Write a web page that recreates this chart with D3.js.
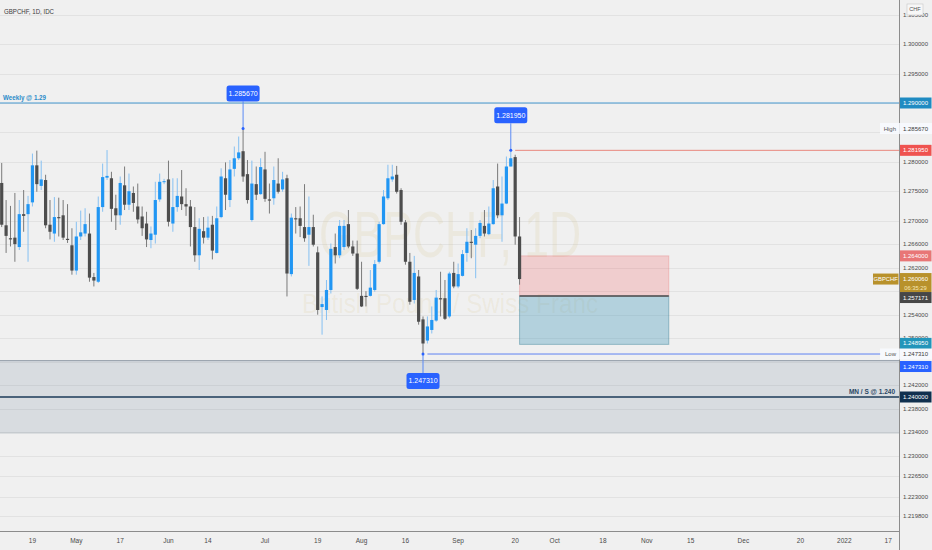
<!DOCTYPE html>
<html><head><meta charset="utf-8">
<script src="https://cdn.jsdelivr.net/npm/d3@7"></script>
<style>html,body{margin:0;padding:0;background:#f0f0f0;overflow:hidden}</style>
</head><body><svg id="c" width="932" height="550"></svg>
<script>
// ---------- DATA ----------
const symbol = "GBPCHF, 1D, IDC";
const wmTitle = "GBPCHF, 1D";
const wmSub = "British Pound / Swiss Franc";
const startDate = "2021-04-08"; // first visible daily bar (weekdays only)
const opens = [
1.2764,1.2692,1.2670,1.2671,1.2655,1.2711,1.2711,1.2731,1.2794,1.2759,
1.2769,1.2693,1.2678,1.2706,1.2709,1.2669,1.2658,1.2615,1.2673,1.2678,
1.2678,1.2604,1.2596,1.2723,1.2773,1.2772,1.2721,1.2709,1.2760,1.2727,
1.2747,1.2724,1.2707,1.2695,1.2667,1.2676,1.2736,1.2766,1.2770,1.2695,
1.2723,1.2741,1.2728,1.2724,1.2689,1.2641,1.2682,1.2671,1.2693,1.2645,
1.2706,1.2772,1.2735,1.2788,1.2806,1.2818,1.2779,1.2701,1.2762,1.2745,
1.2787,1.2736,1.2738,1.2763,1.2753,1.2772,1.2609,1.2704,1.2704,1.2689,
1.2676,1.2689,1.2646,1.2553,1.2548,1.2582,1.2655,1.2641,1.2655,1.2694,
1.2656,1.2644,1.2572,1.2572,1.2572,1.2582,1.2630,1.2694,1.2738,1.2770,
1.2778,1.2752,1.2697,1.2630,1.2565,1.2605,1.2532,1.2496,1.2514,1.2530,
1.2568,1.2568,1.2537,1.2611,1.2588,1.2606,1.2645,1.2664,1.2659,1.2674,
1.2691,1.2677,1.2694,1.2758,1.2709,1.2729,1.2792,1.2808,1.2673];
const highs = [
1.2798,1.2735,1.2725,1.2747,1.2735,1.2752,1.2742,1.2814,1.2819,1.2802,
1.2778,1.2735,1.2740,1.2739,1.2735,1.2728,1.2687,1.2698,1.2717,1.2721,
1.2712,1.2611,1.2741,1.2797,1.2820,1.2783,1.2744,1.2775,1.2792,1.2780,
1.2758,1.2763,1.2724,1.2715,1.2690,1.2766,1.2780,1.2771,1.2802,1.2772,
1.2772,1.2786,1.2755,1.2735,1.2723,1.2704,1.2706,1.2707,1.2708,1.2724,
1.2789,1.2799,1.2803,1.2826,1.2843,1.28567,1.2803,1.2802,1.2792,1.2806,
1.2817,1.2763,1.2792,1.2806,1.2783,1.2778,1.2712,1.2723,1.2724,1.2762,
1.2741,1.2710,1.2656,1.2571,1.2599,1.2661,1.2678,1.2701,1.2701,1.2718,
1.2666,1.2666,1.2630,1.2580,1.2616,1.2633,1.2698,1.2752,1.2795,1.2795,
1.2793,1.2755,1.2701,1.2645,1.2640,1.2616,1.2537,1.2537,1.2554,1.2582,
1.2613,1.2599,1.2613,1.2630,1.2627,1.2650,1.2687,1.2684,1.2687,1.2701,
1.2718,1.2724,1.2769,1.2797,1.2775,1.2809,1.28195,1.2812,1.2706];
const lows = [
1.2689,1.2645,1.2656,1.2630,1.2650,1.2681,1.2630,1.2724,1.2749,1.2752,
1.2687,1.2668,1.2664,1.2673,1.2667,1.2662,1.2608,1.2608,1.2667,1.2673,
1.2596,1.2588,1.2594,1.2715,1.2769,1.2698,1.2684,1.2693,1.2718,1.2718,
1.2715,1.2695,1.2674,1.2655,1.2653,1.2661,1.2732,1.2762,1.2690,1.2681,
1.2715,1.2718,1.2708,1.2656,1.2630,1.2616,1.2661,1.2667,1.2634,1.2644,
1.2704,1.2718,1.2723,1.2775,1.2803,1.2766,1.2729,1.2698,1.2735,1.2744,
1.2732,1.2712,1.2727,1.2746,1.2749,1.2571,1.2605,1.2678,1.2672,1.2664,
1.2623,1.2656,1.2540,1.2506,1.2531,1.2576,1.2627,1.2636,1.2650,1.2653,
1.2640,1.2582,1.2553,1.2554,1.2571,1.2579,1.2627,1.2693,1.2735,1.2766,
1.2746,1.2693,1.2625,1.2557,1.2559,1.2523,1.24731,1.2491,1.2508,1.2528,
1.2537,1.2531,1.2534,1.2585,1.2585,1.2605,1.2630,1.2636,1.2602,1.2670,
1.2673,1.2675,1.2693,1.2704,1.2664,1.2728,1.2792,1.2659,1.2591];
const closes = [
1.2693,1.2674,1.2668,1.2660,1.2711,1.2708,1.2728,1.2794,1.2762,1.2770,
1.2692,1.2681,1.2706,1.2704,1.2671,1.2667,1.2615,1.2673,1.2680,1.2694,
1.2603,1.2598,1.2723,1.2774,1.2776,1.2720,1.2709,1.2764,1.2727,1.2750,
1.2730,1.2702,1.2687,1.2668,1.2678,1.2735,1.2766,1.2767,1.2698,1.2723,
1.2742,1.2728,1.2724,1.2689,1.2641,1.2686,1.2671,1.2688,1.2649,1.2704,
1.2775,1.2744,1.2787,1.2806,1.2816,1.2775,1.2735,1.2763,1.2744,1.2791,
1.2737,1.2734,1.2769,1.2749,1.2770,1.2610,1.2705,1.2702,1.2691,1.2670,
1.2689,1.2659,1.2548,1.2558,1.2582,1.2652,1.2641,1.2691,1.2691,1.2656,
1.2644,1.2584,1.2554,1.2570,1.2586,1.2626,1.2694,1.2741,1.2772,1.2775,
1.2749,1.2698,1.2630,1.2562,1.2611,1.2528,1.2491,1.2520,1.2531,1.2569,
1.2566,1.2533,1.2610,1.2588,1.2609,1.2643,1.2664,1.2662,1.2674,1.2696,
1.2678,1.2695,1.2755,1.2709,1.2729,1.2792,1.2806,1.2673,1.26006];

const tickDates  = ["2021-04-19","2021-05-03","2021-05-17","2021-06-01","2021-06-14","2021-07-01","2021-07-19","2021-08-02","2021-08-16","2021-09-01","2021-09-20","2021-10-01","2021-10-18","2021-11-01","2021-11-15","2021-12-01","2021-12-20","2022-01-03","2022-01-17"];
const tickLabels = ["19","May","17","Jun","14","Jul","19","Aug","16","Sep","20","Oct","18","Nov","15","Dec","20","2022","17"];

const gridPrices = [1.305,1.300,1.295,1.290,1.285,1.280,1.275,1.270,1.266,1.262,1.258,1.254,1.250,1.246,1.242,1.238,1.234,1.230,1.2265,1.223,1.2198];
const axisPrices = [1.305,1.300,1.295,1.280,1.275,1.270,1.266,1.262,1.254,1.250,1.242,1.238,1.234,1.230,1.2265,1.223,1.2198];

const weeklyLevel = 1.29, weeklyText = "Weekly @ 1.29";
const monthlyLevel = 1.24, monthlyText = "MN / S @ 1.240";
const zoneTop = 1.24618, zoneBottom = 1.23389;
const highPrice = 1.28567, highIdx = 55;
const swingHigh = 1.28195, swingHighIdx = 116;
const lowPrice = 1.24731, lowIdx = 96;
const posEntry = 1.257171, posStop = 1.264, posTarget = 1.24895, posStartIdx = 118, posEndIdx = 152;
const lastPrice = 1.26006, countdown = "06:35:29";

// ---------- SETUP ----------
const W = 932, H = 550, plotR = 899, plotB = 531;
const FONT = "'Liberation Sans', Arial, sans-serif";
const svg = d3.select("#c").style("font-family", FONT);
svg.append("rect").attr("width", W).attr("height", H).attr("fill", "#f0f0f0");

const x = d3.scaleLinear().domain([-0.39, 204.46]).range([0, plotR]);
const y = d3.scaleLinear().domain([1.24, 1.29]).range([397, 103]);
const fmt = d3.format(".6f");

function idxOf(ds) {
  const s = new Date(startDate + "T00:00:00Z"), e = new Date(ds + "T00:00:00Z");
  let n = 0;
  for (let d = new Date(s); d < e; d.setUTCDate(d.getUTCDate() + 1)) {
    const wd = d.getUTCDay();
    if (wd !== 0 && wd !== 6) n++;
  }
  return n;
}
const candles = opens.map((o, i) => ({i, o, h: highs[i], l: lows[i], c: closes[i]}));

svg.append("defs").append("clipPath").attr("id", "plot")
  .append("rect").attr("x", 0).attr("y", 0).attr("width", plotR).attr("height", plotB);
const plot = svg.append("g").attr("clip-path", "url(#plot)");

// grid
plot.append("g").selectAll("line").data(gridPrices).join("line")
  .attr("x1", 0).attr("x2", plotR)
  .attr("y1", d => Math.round(y(d)) + 0.5).attr("y2", d => Math.round(y(d)) + 0.5)
  .attr("stroke", "#e2e2e2").attr("stroke-width", 1);

// watermark
plot.append("text").attr("x", 319).attr("y", 257).attr("font-size", 64)
  .attr("textLength", 262).attr("lengthAdjust", "spacingAndGlyphs")
  .attr("fill", "rgba(200,170,70,0.10)").text(wmTitle);
plot.append("text").attr("x", 302).attr("y", 313).attr("font-size", 27)
  .attr("textLength", 296).attr("lengthAdjust", "spacingAndGlyphs")
  .attr("fill", "rgba(200,170,70,0.10)").text(wmSub);

// gray zone
plot.append("rect").attr("x", 0).attr("width", plotR)
  .attr("y", y(zoneTop)).attr("height", y(zoneBottom) - y(zoneTop))
  .attr("fill", "rgba(120,140,160,0.2)");
plot.append("line").attr("x1", 0).attr("x2", plotR).attr("y1", y(zoneTop)).attr("y2", y(zoneTop))
  .attr("stroke", "#8f9aa5").attr("stroke-width", 1);
plot.append("line").attr("x1", 0).attr("x2", plotR).attr("y1", y(zoneBottom)).attr("y2", y(zoneBottom))
  .attr("stroke", "#c0c6cc").attr("stroke-width", 1);

// weekly line
plot.append("line").attr("x1", 0).attr("x2", plotR).attr("y1", y(weeklyLevel)).attr("y2", y(weeklyLevel))
  .attr("stroke", "#4498d0").attr("stroke-width", 1);
plot.append("text").attr("x", 3).attr("y", y(weeklyLevel) - 3.5).attr("font-size", 6.5)
  .attr("font-weight", "bold").attr("textLength", 43).attr("lengthAdjust", "spacingAndGlyphs")
  .attr("fill", "#2a8bc9").text(weeklyText);

// monthly line
plot.append("line").attr("x1", 0).attr("x2", plotR).attr("y1", y(monthlyLevel)).attr("y2", y(monthlyLevel))
  .attr("stroke", "#1d3b58").attr("stroke-width", 1.6);
plot.append("text").attr("x", 895).attr("y", y(monthlyLevel) - 3.5).attr("font-size", 6.5)
  .attr("text-anchor", "end").attr("font-weight", "bold")
  .attr("fill", "#2b4865").text(monthlyText);

// position tool
const px0 = x(posStartIdx), px1 = x(posEndIdx);
plot.append("rect").attr("x", px0).attr("width", px1 - px0)
  .attr("y", y(posStop)).attr("height", y(posEntry) - y(posStop))
  .attr("fill", "rgba(242,80,85,0.22)").attr("stroke", "rgba(230,120,120,0.35)");
plot.append("rect").attr("x", px0).attr("width", px1 - px0)
  .attr("y", y(posEntry)).attr("height", y(posTarget) - y(posEntry))
  .attr("fill", "rgba(40,140,180,0.30)").attr("stroke", "rgba(60,130,150,0.45)");
plot.append("line").attr("x1", px0).attr("x2", px1).attr("y1", y(posEntry)).attr("y2", y(posEntry))
  .attr("stroke", "#505050").attr("stroke-width", 1.4);

// swing high red line
plot.append("line").attr("x1", x(swingHighIdx + 1)).attr("x2", plotR)
  .attr("y1", y(swingHigh)).attr("y2", y(swingHigh))
  .attr("stroke", "#e8877d").attr("stroke-width", 1);

// low line
plot.append("line").attr("x1", x(lowIdx + 1)).attr("x2", 881)
  .attr("y1", y(lowPrice)).attr("y2", y(lowPrice))
  .attr("stroke", "#5d82f2").attr("stroke-width", 1);

// candles
const cg = plot.append("g");
const bw = 3.2;
cg.selectAll("line").data(candles).join("line")
  .attr("x1", d => x(d.i)).attr("x2", d => x(d.i))
  .attr("y1", d => y(d.h)).attr("y2", d => y(d.l))
  .attr("stroke", d => d.c >= d.o ? "#86c0f2" : "#7a7a7a").attr("stroke-width", 1);
cg.selectAll("rect").data(candles).join("rect")
  .attr("x", d => x(d.i) - bw / 2).attr("width", bw)
  .attr("y", d => y(Math.max(d.o, d.c)))
  .attr("height", d => Math.max(1, Math.abs(y(d.o) - y(d.c))))
  .attr("fill", d => d.c >= d.o ? "#2196f3" : "#4d4d4d");

// markers
function marker(idx, price, above) {
  const cx = x(idx), py = y(price);
  const bh = 16, bwid = 33;
  const by = above ? py - 43 : py + 19;
  const lineY1 = above ? by + bh : py;
  const lineY2 = above ? py : by;
  plot.append("line").attr("x1", cx).attr("x2", cx).attr("y1", lineY1).attr("y2", lineY2)
    .attr("stroke", "#5b8af5").attr("stroke-width", 1);
  plot.append("circle").attr("cx", cx).attr("cy", py).attr("r", 1.5).attr("fill", "#2962ff");
  plot.append("rect").attr("x", cx - bwid / 2).attr("y", by).attr("width", bwid).attr("height", bh)
    .attr("rx", 2.5).attr("fill", "#2962ff");
  plot.append("text").attr("x", cx).attr("y", by + bh / 2).attr("dy", "0.35em")
    .attr("text-anchor", "middle").attr("font-size", 7).attr("fill", "#fff").text(fmt(price));
}
marker(highIdx, highPrice, true);
marker(swingHighIdx, swingHigh, true);
marker(lowIdx, lowPrice, false);

// title
svg.append("text").attr("x", 4).attr("y", 14).attr("font-size", 7.5)
  .attr("textLength", 50).attr("lengthAdjust", "spacingAndGlyphs")
  .attr("fill", "#3c3c3c").text(symbol);

// axes borders
svg.append("line").attr("x1", plotR + 0.5).attr("x2", plotR + 0.5).attr("y1", 0).attr("y2", H)
  .attr("stroke", "#8c8c8c");
svg.append("line").attr("x1", 0).attr("x2", plotR).attr("y1", plotB + 0.5).attr("y2", plotB + 0.5)
  .attr("stroke", "#8c8c8c");

// date axis
svg.append("g").selectAll("text").data(tickDates).join("text")
  .attr("x", d => x(idxOf(d))).attr("y", 543).attr("text-anchor", "middle")
  .attr("font-size", 6.5).attr("fill", "#4a4a4a")
  .text((d, i) => tickLabels[i]);

// price axis labels
const ax = svg.append("g");
ax.selectAll("text").data(axisPrices).join("text")
  .attr("x", 915.5).attr("y", d => y(d)).attr("dy", "0.35em").attr("text-anchor", "middle")
  .attr("font-size", 6).attr("fill", "#4a4a4a").text(d => fmt(d));

// CHF box
ax.append("rect").attr("x", 907).attr("y", 4).attr("width", 16).attr("height", 11)
  .attr("fill", "#f7f7f7").attr("stroke", "#c8c8c8").attr("stroke-width", 0.6);
ax.append("text").attr("x", 915).attr("y", 9.5).attr("dy", "0.35em").attr("text-anchor", "middle")
  .attr("font-size", 5.5).attr("fill", "#555").text("CHF");

function boxLabel(price, fill, txt, yc, color) {
  const cy = yc !== undefined ? yc : y(price);
  ax.append("rect").attr("x", 900).attr("y", cy - 5.5).attr("width", 31.5).attr("height", 11).attr("fill", fill);
  ax.append("text").attr("x", 915.5).attr("y", cy).attr("dy", "0.35em").attr("text-anchor", "middle")
    .attr("font-size", 6).attr("fill", color || "#fff").text(txt || fmt(price));
}
// High / Low text labels
function hlLabel(price, name) {
  const cy = y(price);
  ax.append("rect").attr("x", 880).attr("y", cy - 5.5).attr("width", 52).attr("height", 11)
    .attr("fill", "rgba(248,250,255,0.85)");
  ax.append("text").attr("x", 896).attr("y", cy).attr("dy", "0.35em").attr("text-anchor", "end")
    .attr("font-size", 6).attr("fill", "#555").text(name);
  ax.append("text").attr("x", 915.5).attr("y", cy).attr("dy", "0.35em").attr("text-anchor", "middle")
    .attr("font-size", 6).attr("fill", "#3a3a3a").text(fmt(price));
}
boxLabel(weeklyLevel, "#1f8bc2");
hlLabel(highPrice, "High");
boxLabel(swingHigh, "#ef5350");
boxLabel(posStop, "#e87676");
// last price (gold)
{
  const cy = y(lastPrice);
  ax.append("rect").attr("x", 900).attr("y", cy - 6).attr("width", 31.5).attr("height", 19).attr("fill", "#b8912b");
  ax.append("text").attr("x", 915.5).attr("y", cy).attr("dy", "0.35em").attr("text-anchor", "middle")
    .attr("font-size", 6).attr("fill", "#fff").text(fmt(lastPrice));
  ax.append("text").attr("x", 915.5).attr("y", cy + 8.5).attr("dy", "0.35em").attr("text-anchor", "middle")
    .attr("font-size", 5.8).attr("fill", "#f6e7b8").text(countdown);
  ax.append("rect").attr("x", 873).attr("y", cy - 5.5).attr("width", 25.5).attr("height", 11).attr("fill", "#b8912b");
  ax.append("text").attr("x", 885.7).attr("y", cy).attr("dy", "0.35em").attr("text-anchor", "middle")
    .attr("font-size", 5.8).attr("fill", "#fff").text("GBPCHF");
}
boxLabel(posEntry, "#474747", null, y(posEntry) + 1.5);
boxLabel(posTarget, "#2295ba", null, y(posTarget) - 1);
hlLabel(lowPrice, "Low");
boxLabel(lowPrice, "#2962ff", null, y(lowPrice) + 12.5);
boxLabel(monthlyLevel, "#10304f");
</script></body></html>
